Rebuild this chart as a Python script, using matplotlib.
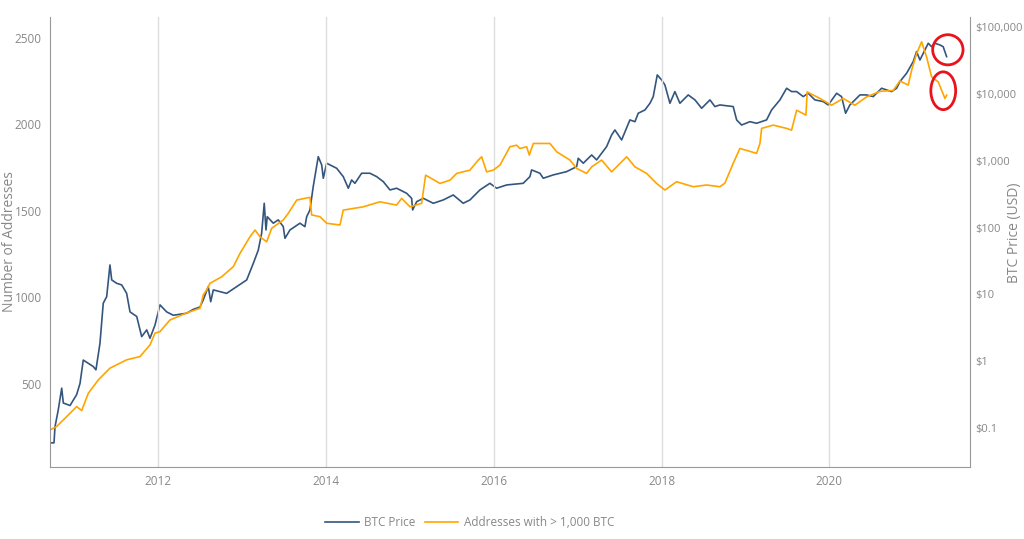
import matplotlib
matplotlib.use("Agg")
import matplotlib.pyplot as plt
from matplotlib.patches import Ellipse
from matplotlib.lines import Line2D

plt.rcParams['font.family'] = ['Open Sans', 'DejaVu Sans']

# addresses holding > 1,000 BTC (decimal year, count)
addr_years = [2010.709, 2010.789, 2010.908, 2011.027, 2011.087, 2011.166, 2011.285, 2011.424,
              2011.623, 2011.782, 2011.901, 2011.961, 2012.020, 2012.139, 2012.338, 2012.497,
              2012.536, 2012.577, 2012.616, 2012.756, 2012.894, 2012.974, 2013.093, 2013.153,
              2013.212, 2013.292, 2013.352, 2013.490, 2013.549, 2013.650, 2013.808, 2013.828,
              2013.927, 2014.007, 2014.166, 2014.205, 2014.443, 2014.642, 2014.841, 2014.901,
              2015.000, 2015.139, 2015.187, 2015.358, 2015.477, 2015.557, 2015.715, 2015.814,
              2015.855, 2015.914, 2015.993, 2016.073, 2016.192, 2016.272, 2016.311, 2016.391,
              2016.422, 2016.470, 2016.669, 2016.748, 2016.907, 2016.987, 2017.106, 2017.166,
              2017.285, 2017.404, 2017.583, 2017.682, 2017.821, 2017.940, 2018.039, 2018.179,
              2018.377, 2018.536, 2018.695, 2018.754, 2018.853, 2018.933, 2019.132, 2019.172,
              2019.192, 2019.330, 2019.490, 2019.549, 2019.609, 2019.720, 2019.735, 2019.887,
              2020.026, 2020.164, 2020.304, 2020.443, 2020.602, 2020.760, 2020.840, 2020.939,
              2020.980, 2021.039, 2021.099, 2021.158, 2021.218, 2021.297, 2021.337, 2021.377,
              2021.397]
addr_count = [234, 254, 311, 369, 346, 446, 523, 591,
              639, 658, 725, 793, 802, 869, 910, 937,
              1014, 1043, 1081, 1119, 1177, 1254, 1350, 1389,
              1350, 1321, 1399, 1447, 1485, 1562, 1578, 1476,
              1466, 1428, 1418, 1504, 1523, 1552, 1533, 1572,
              1523, 1543, 1706, 1658, 1677, 1716, 1735, 1793,
              1812, 1725, 1735, 1764, 1870, 1879, 1860, 1870,
              1822, 1889, 1889, 1841, 1793, 1745, 1716, 1754,
              1793, 1725, 1812, 1754, 1716, 1658, 1620, 1668,
              1639, 1649, 1639, 1660, 1774, 1860, 1832, 1889,
              1976, 1995, 1976, 1966, 2081, 2053, 2187, 2149,
              2110, 2149, 2110, 2158, 2190, 2195, 2250, 2226,
              2312, 2408, 2476, 2389, 2274, 2245, 2197, 2149,
              2168]

# BTC price in USD (decimal year, price)
price_years = [2010.709, 2010.757, 2010.769, 2010.808, 2010.849, 2010.868, 2010.948, 2011.027,
               2011.067, 2011.106, 2011.225, 2011.257, 2011.305, 2011.344, 2011.385, 2011.424,
               2011.445, 2011.504, 2011.564, 2011.623, 2011.663, 2011.743, 2011.802, 2011.862,
               2011.901, 2011.961, 2012.020, 2012.100, 2012.179, 2012.338, 2012.417, 2012.497,
               2012.536, 2012.596, 2012.625, 2012.656, 2012.815, 2012.934, 2013.054, 2013.132,
               2013.192, 2013.232, 2013.263, 2013.284, 2013.299, 2013.371, 2013.430, 2013.490,
               2013.510, 2013.570, 2013.689, 2013.748, 2013.769, 2013.808, 2013.847, 2013.907,
               2013.948, 2013.967, 2014.007, 2014.126, 2014.205, 2014.265, 2014.305, 2014.344,
               2014.424, 2014.523, 2014.603, 2014.682, 2014.762, 2014.841, 2014.961, 2015.020,
               2015.032, 2015.080, 2015.159, 2015.278, 2015.397, 2015.516, 2015.635, 2015.715,
               2015.834, 2015.953, 2016.033, 2016.153, 2016.350, 2016.430, 2016.450, 2016.549,
               2016.589, 2016.708, 2016.868, 2016.987, 2017.006, 2017.066, 2017.166, 2017.225,
               2017.344, 2017.404, 2017.443, 2017.523, 2017.622, 2017.682, 2017.721, 2017.801,
               2017.861, 2017.900, 2017.948, 2018.000, 2018.039, 2018.099, 2018.158, 2018.218,
               2018.317, 2018.397, 2018.477, 2018.576, 2018.635, 2018.695, 2018.853, 2018.894,
               2018.953, 2019.052, 2019.132, 2019.251, 2019.311, 2019.410, 2019.490, 2019.549,
               2019.609, 2019.688, 2019.747, 2019.827, 2019.926, 2019.986, 2020.086, 2020.145,
               2020.193, 2020.244, 2020.364, 2020.443, 2020.522, 2020.622, 2020.741, 2020.801,
               2020.840, 2020.920, 2020.999, 2021.039, 2021.079, 2021.138, 2021.178, 2021.218,
               2021.257, 2021.317, 2021.356, 2021.397]
price_usd = [0.061, 0.061, 0.106, 0.19, 0.40, 0.24, 0.22, 0.32,
             0.47, 1.05, 0.84, 0.75, 1.87, 7.4, 9.3, 27.6,
             16.5, 14.7, 13.9, 10.4, 5.5, 4.7, 2.35, 2.96,
             2.22, 3.5, 7.0, 5.5, 4.9, 5.25, 6.0, 6.5,
             8.3, 13.1, 7.8, 11.7, 10.4, 13.1, 16.5, 29,
             46, 82, 230, 92, 145, 116, 130, 103,
             69, 92, 116, 103, 145, 183, 408, 1143,
             859, 544, 912, 767, 575, 386, 513, 457,
             646, 646, 575, 484, 364, 386, 324, 273,
             183, 243, 273, 230, 258, 306, 230, 258,
             364, 457, 386, 432, 457, 575, 724, 646,
             544, 610, 683, 811, 1081, 912, 1211, 1021,
             1612, 2410, 2862, 2030, 4040, 3800, 5080, 5690,
             7160, 9000, 18970, 15960, 13450, 7160, 10700, 7160,
             9540, 8040, 6030, 8040, 6390, 6760, 6390, 4040,
             3390, 3800, 3600, 4040, 5690, 8040, 12000, 10700,
             10700, 9000, 10100, 8040, 7590, 6760, 10100, 9000,
             5080, 6760, 9540, 9540, 9000, 12000, 10700, 12000,
             15070, 20100, 30000, 42300, 31700, 44800, 56300, 50100,
             56300, 53200, 50100, 35600]

year_ticks = [2012, 2014, 2016, 2018, 2020]
addr_ticks = [500, 1000, 1500, 2000, 2500]
price_ticks = [0.1, 1, 10, 100, 1000, 10000, 100000]
price_labels = ['$0.1', '$1', '$10', '$100', '$1,000', '$10,000', '$100,000']

blue = '#34567e'
orange = '#ffa500'
grey = '#888888'

fig = plt.figure(figsize=(10.24, 5.39), dpi=100)
ax = fig.add_axes([0.0488, 0.1336, 0.8984, 0.835])
ax2 = ax.twinx()

ax2.plot(price_years, price_usd, color=blue, lw=1.2)
ax.plot(addr_years, addr_count, color=orange, lw=1.2)
ax.set_zorder(ax2.get_zorder() + 1)
ax.patch.set_visible(False)

ax.set_xlim(2010.709, 2021.675)
ax.set_ylim(20, 2620)
ax2.set_yscale('log')
ax2.set_ylim(0.0266, 139300)

ax.set_xticks(year_ticks)
ax.set_xticklabels([str(y) for y in year_ticks])
ax.set_yticks(addr_ticks)
ax2.set_yticks(price_ticks)
ax2.set_yticklabels(price_labels)
ax2.minorticks_off()

ax.grid(axis='x', color='#dddddd', lw=1)
ax.set_axisbelow(True)
ax.tick_params(length=0, labelsize=8.5, labelcolor=grey, pad=6)
ax2.tick_params(length=0, labelsize=8, labelcolor=grey, pad=4)
for a in (ax, ax2):
    a.spines['top'].set_visible(False)
    for s in ('left', 'bottom', 'right'):
        a.spines[s].set_color('#999999')
ax.spines['right'].set_visible(False)
ax2.spines['left'].set_visible(False)
ax2.spines['bottom'].set_visible(False)

ax.set_ylabel('Number of Addresses', fontsize=10, color=grey)
ax.yaxis.set_label_coords(-0.036, 0.5)
ax2.set_ylabel('BTC Price (USD)', fontsize=10, color=grey)
ax2.yaxis.set_label_coords(1.040, 0.52)

# red hand-drawn circles marking the latest drop
for cx, cy, w, h in [(0.976, 0.927, 0.033, 0.067), (0.971, 0.836, 0.027, 0.084)]:
    ax.add_patch(Ellipse((cx, cy), w, h, transform=ax.transAxes, fill=False,
                         edgecolor='#e8141c', lw=2, clip_on=False, zorder=10))

handles = [Line2D([], [], color=blue, lw=1.2), Line2D([], [], color=orange, lw=1.2)]
fig.legend(handles, ['BTC Price', 'Addresses with > 1,000 BTC'], loc='center',
           bbox_to_anchor=(0.459, 0.03), ncol=2, frameon=False, fontsize=8.5,
           labelcolor=grey, handlelength=2.8, columnspacing=0.8, handletextpad=0.5)

fig.savefig('out.png', dpi=100)
